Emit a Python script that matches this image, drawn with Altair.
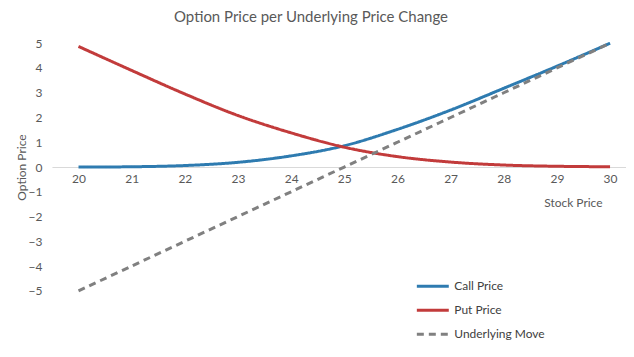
import altair as alt
import pandas as pd

stock_price = [20, 21, 22, 23, 24, 25, 26, 27, 28, 29, 30]
call_price = [0.00, 0.01, 0.06, 0.19, 0.45, 0.86, 1.52, 2.30, 3.18, 4.07, 5.00]
put_price = [4.87, 3.90, 2.95, 2.08, 1.38, 0.80, 0.42, 0.20, 0.08, 0.03, 0.01]
underlying_move = [-5, -4, -3, -2, -1, 0, 1, 2, 3, 4, 5]
series_names = ["Call Price", "Put Price", "Underlying Move"]
series_colors = ["#2E7BB0", "#C23B3B", "#808080"]
y_ticks = [-5, -4, -3, -2, -1, 0, 1, 2, 3, 4, 5]

rows = []
for name, vals in zip(series_names, [call_price, put_price, underlying_move]):
    for s, v in zip(stock_price, vals):
        rows.append({"Stock Price": s, "Value": v, "Series": name})
df = pd.DataFrame(rows)

font = "Lato"

legend = alt.Legend(
    title=None, orient="none", legendX=364, legendY=226,
    symbolType="stroke", symbolSize=1024, labelFontSize=12,
    labelColor="#404040", labelFont=font, rowPadding=-8, labelOffset=4,
)

chart = alt.Chart(df).mark_line(interpolate="catmull-rom").encode(
    x=alt.X("Stock Price:Q",
            scale=alt.Scale(domain=[19.5, 30.3], nice=False, zero=False),
            axis=alt.Axis(values=stock_price, format="d", offset=-124,
                          grid=False, ticks=False, domainColor="#D9D9D9",
                          labelColor="#595959", labelFontSize=12, labelFont=font,
                          labelPadding=7, title="Stock Price", titleFont=font,
                          titleFontSize=12, titleFontWeight="normal",
                          titleColor="#595959", titleX=551, titleY=36,
                          titleAlign="right", titleBaseline="middle")),
    y=alt.Y("Value:Q",
            scale=alt.Scale(domain=[-5, 5], nice=False, zero=False),
            axis=alt.Axis(values=y_ticks, grid=False, ticks=False, domain=False,
                          labelColor="#595959", labelFontSize=12, labelFont=font,
                          labelPadding=10, title="Option Price", titleFont=font,
                          titleFontSize=12, titleFontWeight="normal",
                          titleColor="#595959", titleX=-30, titleY=124,
                          titleAngle=-90, titleAlign="center",
                          titleBaseline="middle")),
    color=alt.Color("Series:N",
                    scale=alt.Scale(domain=series_names, range=series_colors),
                    legend=legend),
    strokeDash=alt.StrokeDash("Series:N",
                              scale=alt.Scale(domain=series_names,
                                              range=[[1, 0], [1, 0], [7, 5]]),
                              legend=legend),
    strokeWidth=alt.StrokeWidth("Series:N",
                                scale=alt.Scale(domain=series_names, range=[3, 3, 1.75]),
                                legend=legend),
).properties(
    width=575, height=248,
    title=alt.TitleParams("Option Price per Underlying Price Change",
                          font=font, fontSize=15, fontWeight="normal",
                          color="#595959", anchor="middle", dx=-28, offset=12),
    autosize=alt.AutoSizeParams(type="none"),
    padding={"left": 44, "top": 35, "right": 0, "bottom": 60},
).configure_view(stroke=None)

chart.save("out.html", embed_options={"renderer": "svg", "actions": False})
